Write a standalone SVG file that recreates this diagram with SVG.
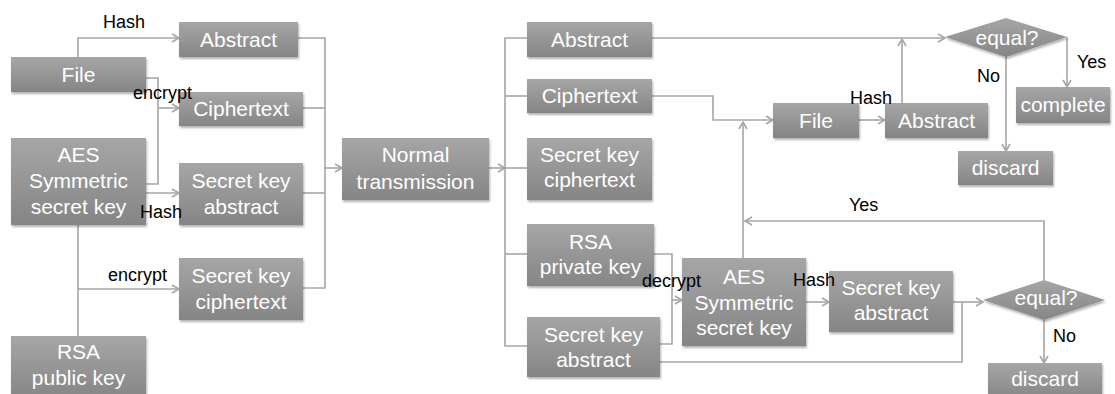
<svg xmlns="http://www.w3.org/2000/svg" width="1115" height="394" viewBox="0 0 1115 394">
  <defs>
    <linearGradient id="boxFill" x1="0" y1="0" x2="0" y2="1">
      <stop offset="0" stop-color="#a6a6a6"/>
      <stop offset="1" stop-color="#858585"/>
    </linearGradient>
    <filter id="shadow" x="-10%" y="-10%" width="125%" height="140%">
      <feDropShadow dx="1" dy="2" stdDeviation="1.2" flood-color="#000" flood-opacity="0.3"/>
    </filter>
    <marker id="arrow" markerUnits="userSpaceOnUse" markerWidth="12" markerHeight="12" refX="8" refY="5" orient="auto">
      <path d="M1,1 L8,5 L1,9" fill="none" stroke="#a6a6a6" stroke-width="1.6"/>
    </marker>
    <style>
      .node rect, .node polygon { fill: url(#boxFill); filter: url(#shadow); }
      .node text { font-family: "Liberation Sans", Arial, sans-serif; font-size: 21px; fill: #ffffff; text-anchor: middle; }
      .conn path { fill: none; stroke: #a6a6a6; stroke-width: 1.6; }
      .conn path.arr { marker-end: url(#arrow); }
      .lbl { font-family: "Liberation Sans", Arial, sans-serif; font-size: 18px; fill: #000000; }
    </style>
  </defs>
  <rect width="1115" height="394" fill="#ffffff"/>

  <!-- connectors -->
  <g id="connectors" class="conn">
    <!-- sender side -->
    <path class="arr" d="M78,57 V38 H179"/>
    <path d="M146,78 H158 V184 H146"/>
    <path class="arr" d="M158,108 H179"/>
    <path class="arr" d="M146,193 H179"/>
    <path d="M78,225 V336"/>
    <path class="arr" d="M78,289 H179"/>
    <path d="M298,38 H325 V288 H303"/>
    <path d="M303,108 H325"/>
    <path d="M303,193 H325"/>
    <path class="arr" d="M325,168 H342"/>
    <!-- transmission bus -->
    <path class="arr" d="M489,168 H505"/>
    <path d="M527,38 H505 V346 H527"/>
    <path d="M527,96 H505"/>
    <path d="M505,168 H527"/>
    <path d="M527,254 H505"/>
    <!-- receiver side: file check -->
    <path class="arr" d="M652,38 H945"/>
    <path class="arr" d="M652,96 H713 V120 H773"/>
    <path class="arr" d="M743,258 V122"/>
    <path class="arr" d="M859,120 H885"/>
    <path class="arr" d="M902,103 V39"/>
    <path class="arr" d="M1006,57 V151"/>
    <path class="arr" d="M1067,37 V87"/>
    <!-- receiver side: key check -->
    <path d="M654,254 H672 V344 H660"/>
    <path class="arr" d="M672,300 H682"/>
    <path class="arr" d="M806,302 H829"/>
    <path class="arr" d="M953,302 H983"/>
    <path d="M660,362 H962 V302"/>
    <path class="arr" d="M1044,280 V221 H745"/>
    <path class="arr" d="M1044,320 V363"/>
  </g>

  <!-- sender nodes -->
  <g id="file-src" class="node"><rect x="11" y="57" width="135" height="35"/><text x="78.5" y="82">File</text></g>
  <g id="aes-src" class="node"><rect x="11" y="138" width="135" height="87"/><text x="78.5" y="162">AES</text><text x="78.5" y="188">Symmetric</text><text x="78.5" y="214">secret key</text></g>
  <g id="rsa-public" class="node"><rect x="11" y="336" width="135" height="64"/><text x="78.5" y="359">RSA</text><text x="78.5" y="385">public key</text></g>
  <g id="abstract-src" class="node"><rect x="179" y="22" width="119" height="35"/><text x="238.5" y="47">Abstract</text></g>
  <g id="ciphertext-src" class="node"><rect x="179" y="92" width="124" height="34"/><text x="241" y="116">Ciphertext</text></g>
  <g id="key-abstract-src" class="node"><rect x="179" y="163" width="124" height="62"/><text x="241" y="188">Secret key</text><text x="241" y="214">abstract</text></g>
  <g id="key-cipher-src" class="node"><rect x="179" y="258" width="124" height="62"/><text x="241" y="283">Secret key</text><text x="241" y="309">ciphertext</text></g>
  <g id="transmission" class="node"><rect x="342" y="138" width="147" height="62"/><text x="415.5" y="162">Normal</text><text x="415.5" y="189">transmission</text></g>

  <!-- receiver nodes -->
  <g id="abstract-dst" class="node"><rect x="527" y="22" width="125" height="35"/><text x="589.5" y="47">Abstract</text></g>
  <g id="ciphertext-dst" class="node"><rect x="527" y="79" width="125" height="34"/><text x="589.5" y="103">Ciphertext</text></g>
  <g id="key-cipher-dst" class="node"><rect x="527" y="138" width="125" height="62"/><text x="589.5" y="162">Secret key</text><text x="589.5" y="187">ciphertext</text></g>
  <g id="rsa-private" class="node"><rect x="527" y="224" width="127" height="62"/><text x="590.5" y="249">RSA</text><text x="590.5" y="274">private key</text></g>
  <g id="key-abstract-dst" class="node"><rect x="527" y="317" width="133" height="60"/><text x="593.5" y="342">Secret key</text><text x="593.5" y="367">abstract</text></g>
  <g id="aes-dst" class="node"><rect x="682" y="258" width="124" height="88"/><text x="744" y="284">AES</text><text x="744" y="310">Symmetric</text><text x="744" y="335">secret key</text></g>
  <g id="key-abstract-calc" class="node"><rect x="829" y="271" width="124" height="61"/><text x="891" y="295">Secret key</text><text x="891" y="320">abstract</text></g>
  <g id="file-dst" class="node"><rect x="773" y="103" width="86" height="35"/><text x="816" y="128">File</text></g>
  <g id="abstract-calc" class="node"><rect x="885" y="103" width="103" height="35"/><text x="936.5" y="128">Abstract</text></g>
  <g id="equal-file" class="node"><polygon points="945,37 1006,18 1067,37 1006,57"/><text x="1007" y="45">equal?</text></g>
  <g id="complete" class="node"><rect x="1016" y="87" width="94" height="36"/><text x="1063" y="112">complete</text></g>
  <g id="discard-file" class="node"><rect x="958" y="151" width="95" height="34"/><text x="1005.5" y="175">discard</text></g>
  <g id="equal-key" class="node"><polygon points="983,300 1044,280 1105,300 1044,320"/><text x="1046" y="305">equal?</text></g>
  <g id="discard-key" class="node"><rect x="988" y="363" width="114" height="37"/><text x="1045" y="386">discard</text></g>

  <!-- connector labels, drawn above the boxes -->
  <g id="labels">
    <text class="lbl" x="103" y="28">Hash</text>
    <text class="lbl" x="133" y="99">encrypt</text>
    <text class="lbl" x="140" y="218">Hash</text>
    <text class="lbl" x="108" y="281">encrypt</text>
    <text class="lbl" x="642" y="287">decrypt</text>
    <text class="lbl" x="793" y="286">Hash</text>
    <text class="lbl" x="850" y="104">Hash</text>
    <text class="lbl" x="977" y="82">No</text>
    <text class="lbl" x="1077" y="68">Yes</text>
    <text class="lbl" x="849" y="211">Yes</text>
    <text class="lbl" x="1053" y="342">No</text>
  </g>
</svg>
